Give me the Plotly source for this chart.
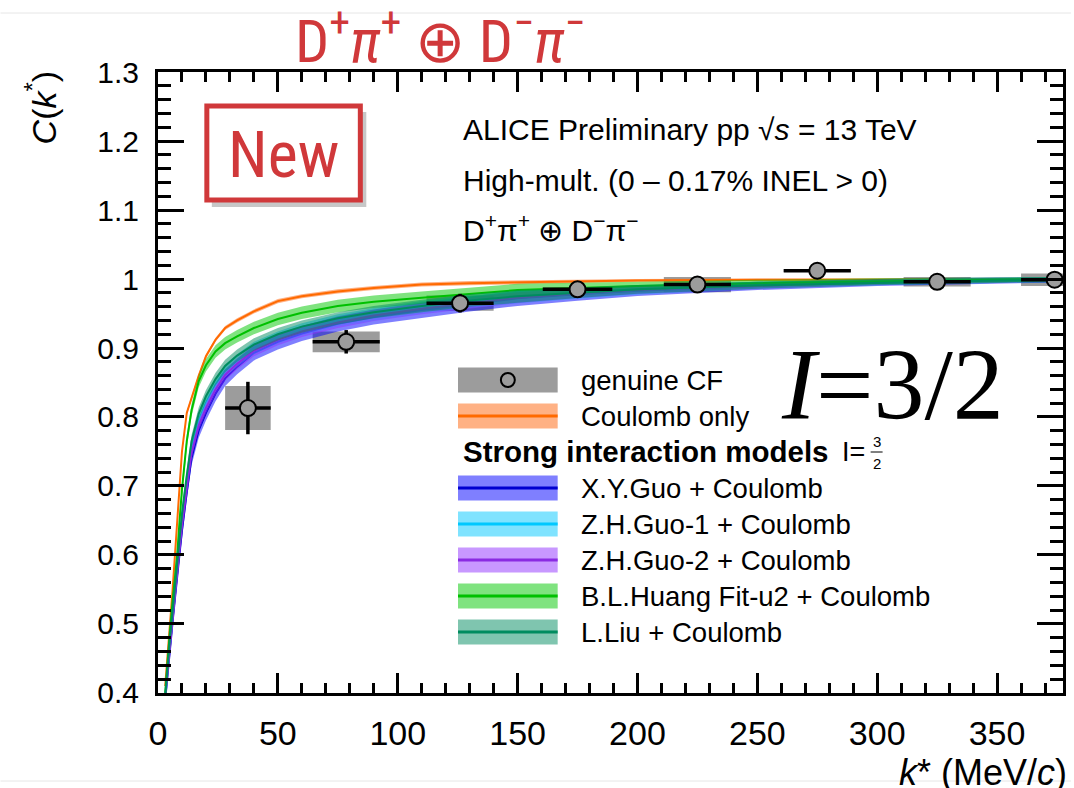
import plotly.graph_objects as go

# ---------------- data ----------------
K = [3, 4, 5, 6, 7, 8, 9, 10, 12, 14, 17, 20, 24, 28, 33, 40, 50, 60, 75, 90,
     110, 130, 150, 175, 200, 250, 300, 350, 380]
coulomb = [0.41, 0.45, 0.50, 0.545, 0.593, 0.645, 0.70, 0.75, 0.806, 0.828, 0.86, 0.888,
           0.912, 0.929, 0.940, 0.953, 0.968, 0.975, 0.982, 0.987, 0.992, 0.994, 0.995,
           0.997, 0.998, 0.999, 0.999, 1.0, 1.0]
xyguo = [0.39, 0.43, 0.47, 0.50, 0.535, 0.57, 0.605, 0.636, 0.691, 0.741, 0.781, 0.806,
         0.834, 0.856, 0.873, 0.893, 0.909, 0.921, 0.935, 0.945, 0.955, 0.964, 0.972,
         0.978, 0.983, 0.990, 0.995, 0.998, 0.999]
zhguo1 = [0.393, 0.436, 0.476, 0.509, 0.544, 0.579, 0.617, 0.65, 0.705, 0.755, 0.795, 0.82,
          0.847, 0.867, 0.882, 0.90, 0.915, 0.927, 0.94, 0.949, 0.959, 0.967, 0.974,
          0.979, 0.984, 0.991, 0.995, 0.998, 0.999]
zhguo2 = [0.392, 0.433, 0.473, 0.504, 0.539, 0.574, 0.61, 0.642, 0.697, 0.748, 0.788, 0.813,
          0.84, 0.861, 0.877, 0.896, 0.912, 0.924, 0.937, 0.947, 0.957, 0.965, 0.973,
          0.979, 0.984, 0.99, 0.995, 0.998, 0.999]
huang = [0.40, 0.45, 0.49, 0.53, 0.565, 0.60, 0.65, 0.695, 0.765, 0.81, 0.852, 0.875,
         0.895, 0.907, 0.917, 0.929, 0.942, 0.951, 0.961, 0.967, 0.973, 0.979, 0.984,
         0.987, 0.990, 0.994, 0.997, 0.999, 1.0]
lliu = [0.395, 0.44, 0.48, 0.515, 0.55, 0.585, 0.625, 0.66, 0.715, 0.765, 0.805, 0.83,
        0.855, 0.874, 0.889, 0.905, 0.92, 0.931, 0.943, 0.952, 0.961, 0.969, 0.975,
        0.98, 0.985, 0.991, 0.995, 0.998, 0.999]
# relative band width profile along K, and band half-widths per model
hw_profile = [0.6, 0.7, 0.8, 0.9] + [1.0] * 19 + [0.85, 0.7, 0.55, 0.45, 0.4, 0.35]

k_pts = [37.5, 78.5, 126, 175, 225, 275, 325, 374]
c_pts = [0.813, 0.909, 0.965, 0.985, 0.992, 1.012, 0.996, 0.999]
stat_err = [0.038, 0.017, 0.0135, 0.006, 0.005, 0.004, 0.004, 0.004]
syst_err = [0.032, 0.015, 0.011, 0.003, 0.011, 0.002, 0.007, 0.009]
k_half = [9.5, 14, 14, 14.5, 14, 14, 14, 14]

model_names = ["Coulomb only", "X.Y.Guo + Coulomb", "Z.H.Guo-1 + Coulomb",
               "Z.H.Guo-2 + Coulomb", "B.L.Huang Fit-u2 + Coulomb", "L.Liu + Coulomb"]
model_vals = [coulomb, xyguo, zhguo1, zhguo2, huang, lliu]
model_hw = [0.003, 0.011, 0.009, 0.008, 0.009, 0.009]
band_cols = ["rgba(255,100,10,0.5)", "rgba(0,0,255,0.5)", "rgba(0,200,255,0.5)",
             "rgba(145,50,255,0.5)", "rgba(0,200,0,0.5)", "rgba(0,140,95,0.5)"]
line_cols = ["#ff6a00", "#0000d0", "#00c8ff", "#8a2be2", "#00c000", "#008c5f"]

# ---------------- figure ----------------
W, H = 1074, 788
L, R, T, B = 158, 8, 72, 95
PW, PH = W - L - R, H - T - B


def px(x):
    return (x - L) / PW


def py(y):
    return (H - B - y) / PH


fig = go.Figure()

# systematic boxes
fig.add_trace(go.Bar(
    x=k_pts, y=[2 * s for s in syst_err], base=[c - s for c, s in zip(c_pts, syst_err)],
    width=[2 * h for h in k_half], marker=dict(color="#9c9c9c", line=dict(width=0)),
    showlegend=False, hoverinfo="skip"))

# model bands
for name, vals, hw, bc, lc in zip(model_names, model_vals, model_hw, band_cols, line_cols):
    up = [v + hw * p for v, p in zip(vals, hw_profile)]
    lo = [v - hw * p for v, p in zip(vals, hw_profile)]
    fig.add_trace(go.Scatter(x=K + K[::-1], y=up + lo[::-1], fill="toself", fillcolor=bc,
                             line=dict(width=0), mode="lines", showlegend=False,
                             hoverinfo="skip"))
    fig.add_trace(go.Scatter(x=K, y=vals, mode="lines", line=dict(color=lc, width=2),
                             showlegend=False, name=name))

# data points
fig.add_trace(go.Scatter(
    x=k_pts, y=c_pts, mode="markers",
    marker=dict(symbol="circle", size=16, color="#9c9c9c", line=dict(color="black", width=2)),
    error_x=dict(type="data", array=k_half, thickness=3.5, width=0, color="black"),
    error_y=dict(type="data", array=stat_err, thickness=3.5, width=0, color="black"),
    showlegend=False, name="genuine CF"))

axis_common = dict(showgrid=False, zeroline=False, showline=True, linewidth=3,
                   linecolor="black", mirror="allticks", ticks="inside",
                   tickcolor="black", tickwidth=3)
fig.update_xaxes(range=[0, 377.5], tick0=0, dtick=50, ticklen=20,
                 tickfont=dict(family="Liberation Sans, Arial", size=34, color="black"),
                 ticklabelstandoff=8,
                 minor=dict(ticks="inside", dtick=10, ticklen=10, tickwidth=3,
                            tickcolor="black", showgrid=False),
                 **axis_common)
fig.update_yaxes(range=[0.3999, 1.3001], tick0=0.4, dtick=0.1, ticklen=26,
                 tickfont=dict(family="Liberation Sans, Arial", size=30, color="black"),
                 ticklabelstandoff=10,
                 minor=dict(ticks="inside", dtick=0.02, ticklen=13, tickwidth=3,
                            tickcolor="black", showgrid=False),
                 **axis_common)

shapes = []
ann = []
TXT = dict(family="Liberation Sans, Arial", color="black")

# thin page lines
for yy in (13, 781):
    shapes.append(dict(type="line", xref="paper", yref="paper", x0=px(0), x1=px(W),
                       y0=py(yy), y1=py(yy), line=dict(color="#e6e6e6", width=1)))

# legend
rows = [380, 416, 451, 488, 524, 560, 596, 632]
sx0, sx1, sh = 459, 559, 12.5
shapes.append(dict(type="rect", xref="paper", yref="paper", x0=px(sx0), x1=px(sx1),
                   y0=py(rows[0] + sh), y1=py(rows[0] - sh), fillcolor="#9c9c9c",
                   line=dict(width=0)))
shapes.append(dict(type="circle", xref="paper", yref="paper", x0=px(502), x1=px(516),
                   y0=py(rows[0] + 7), y1=py(rows[0] - 7), fillcolor="#9c9c9c",
                   line=dict(color="black", width=2)))
ann.append(dict(x=px(580), y=py(rows[0]), text="genuine CF", xanchor="left",
                yanchor="middle", font=dict(size=27.5, **TXT)))
legend_rows = [rows[1]] + rows[3:]
for i, yy in enumerate(legend_rows):
    shapes.append(dict(type="rect", xref="paper", yref="paper", x0=px(sx0), x1=px(sx1),
                       y0=py(yy + sh), y1=py(yy - sh), fillcolor=band_cols[i],
                       line=dict(width=0)))
    shapes.append(dict(type="line", xref="paper", yref="paper", x0=px(sx0), x1=px(sx1),
                       y0=py(yy), y1=py(yy), line=dict(color=line_cols[i], width=3)))
    ann.append(dict(x=px(580), y=py(yy), text=model_names[i], xanchor="left",
                    yanchor="middle", font=dict(size=27.5, **TXT)))
ann.append(dict(x=px(462), y=py(rows[2]), text="<b>Strong interaction models</b>",
                xanchor="left", yanchor="middle", font=dict(size=29.5, **TXT)))
ann.append(dict(x=px(842), y=py(rows[2] + 1), text="I=", xanchor="left",
                yanchor="middle", font=dict(size=27, **TXT)))
ann.append(dict(x=px(879), y=py(rows[2] - 10), text="3", xanchor="center",
                yanchor="middle", font=dict(size=15, **TXT)))
ann.append(dict(x=px(879), y=py(rows[2] + 12), text="2", xanchor="center",
                yanchor="middle", font=dict(size=15, **TXT)))
shapes.append(dict(type="line", xref="paper", yref="paper", x0=px(873), x1=px(885),
                   y0=py(rows[2] + 1), y1=py(rows[2] + 1), line=dict(color="black", width=1)))

# info text
ann.append(dict(x=px(462), y=py(130), text="ALICE Preliminary pp \u221A<i>s</i> = 13 TeV",
                xanchor="left", yanchor="middle", font=dict(size=30, **TXT)))
ann.append(dict(x=px(462), y=py(180), text="High-mult. (0 \u2013 0.17% INEL &gt; 0)",
                xanchor="left", yanchor="middle", font=dict(size=30, **TXT)))
ann.append(dict(x=px(462), y=py(228),
                text="D<sup>+</sup>\u03C0<sup>+</sup> \u2295 D<sup>\u2212</sup>\u03C0<sup>\u2212</sup>",
                xanchor="left", yanchor="middle", font=dict(size=30, **TXT)))

# I = 3/2
ann.append(dict(x=px(895), y=py(384), text="<i>I</i>=3/2", xanchor="center",
                yanchor="middle",
                font=dict(family="Liberation Serif, Times New Roman", size=102, color="black")))

# New box
shapes.append(dict(type="rect", xref="paper", yref="paper", x0=px(212), x1=px(367),
                   y0=py(207), y1=py(112), fillcolor="rgba(0,0,0,0.22)", line=dict(width=0)))
shapes.append(dict(type="rect", xref="paper", yref="paper", x0=px(207), x1=px(361),
                   y0=py(200), y1=py(106), fillcolor="white",
                   line=dict(color="#d0383a", width=5)))
ann.append(dict(x=px(284), y=py(155), text="New", xanchor="center", yanchor="middle",
                font=dict(family="Liberation Sans Narrow, Roboto Condensed, Liberation Sans",
                          size=64, color="#d0383a")))

# red title
ann.append(dict(x=px(441), y=py(38),
                text="D<sup>+</sup><i>\u03C0</i><sup>+</sup> \u2295 D<sup>\u2212</sup><i>\u03C0</i><sup>\u2212</sup>",
                xanchor="center", yanchor="middle",
                font=dict(family="Liberation Sans Narrow, Roboto Condensed, Liberation Sans",
                          size=60, color="#d0383a")))

# axis titles
ann.append(dict(x=px(40), y=py(108), text="<i>C</i>(<i>k</i><sup>*</sup>)", textangle=-90,
                xanchor="center", yanchor="middle", font=dict(size=34, **TXT)))
ann.append(dict(x=px(1072), y=py(772), text="<i>k</i>* (MeV/<i>c</i>)", xanchor="right",
                yanchor="middle", font=dict(size=36, **TXT)))

for a in ann:
    a.setdefault("xref", "paper")
    a.setdefault("yref", "paper")
    a["showarrow"] = False

fig.update_layout(width=W, height=H, margin=dict(l=L, r=R, t=T, b=B),
                  plot_bgcolor="white", paper_bgcolor="white", barmode="overlay",
                  shapes=shapes, annotations=ann, showlegend=False)

fig.write_html("out.html")
